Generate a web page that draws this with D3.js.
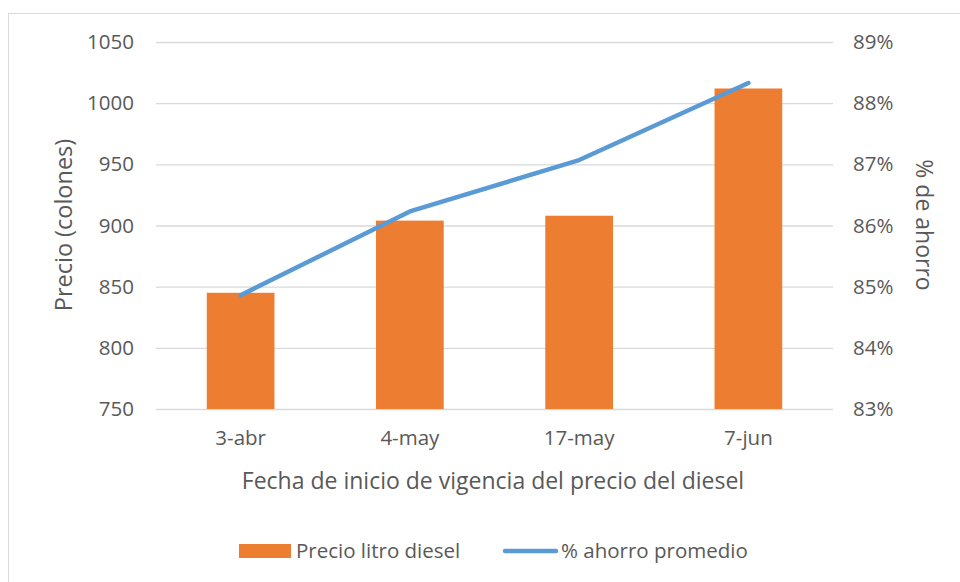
<!DOCTYPE html>
<html>
<head>
<meta charset="utf-8">
<script src="https://cdn.jsdelivr.net/npm/d3@7"></script>
<style>
  body { margin: 0; background: #fff; }
  svg text { font-family: "Open Sans", Lato, sans-serif; fill: #595959; }
</style>
</head>
<body>
<svg id="chart"></svg>
<script>
let W = 960;
let H = 582;

let fechas = ["3-abr", "4-may", "17-may", "7-jun"];
let precio = [845, 904, 908, 1012];
let ahorro = [84.86, 86.23, 87.07, 88.33];
let precioTicks = [750, 800, 850, 900, 950, 1000, 1050];
let ahorroTicks = [83, 84, 85, 86, 87, 88, 89];

let svg = d3.select("#chart").attr("width", W).attr("height", H);

// chart border
svg.append("rect")
    .attr("x", 8.5).attr("y", 13.5)
    .attr("width", W + 10).attr("height", H)
    .attr("fill", "none").attr("stroke", "#d9d9d9");

let pLeft = 156, pRight = 833, pTop = 42, pBottom = 409;

let x = d3.scaleBand().domain(fechas).range([pLeft, pRight])
    .paddingInner(0.6).paddingOuter(0.3);
let y = d3.scaleLinear().domain([750, 1050]).range([pBottom, pTop]);
let y2 = d3.scaleLinear().domain([83, 89]).range([pBottom, pTop]);

// gridlines
svg.append("g").selectAll("line").data(precioTicks).enter().append("line")
    .attr("x1", pLeft).attr("x2", pRight)
    .attr("y1", d => y(d) + 0.5).attr("y2", d => y(d) + 0.5)
    .attr("stroke", "#d9d9d9").attr("stroke-width", 1.3);

// axes (text only)
let yAxis = svg.append("g").attr("transform", "translate(" + (pLeft - 10) + ",0)")
    .call(d3.axisLeft(y).tickValues(precioTicks).tickSize(0).tickPadding(12)
        .tickFormat(d3.format("d")));
let y2Axis = svg.append("g").attr("transform", "translate(" + (pRight + 8) + ",0)")
    .call(d3.axisRight(y2).tickValues(ahorroTicks).tickSize(0).tickPadding(12)
        .tickFormat(d => d + "%"));
let xAxis = svg.append("g").attr("transform", "translate(0," + pBottom + ")")
    .call(d3.axisBottom(x).tickSize(0).tickPadding(21));

[yAxis, y2Axis, xAxis].forEach(function (a) {
    a.select(".domain").remove();
    a.selectAll("text").attr("font-size", 20.5).attr("font-family", null).attr("fill", "#595959");
});

// bars
svg.append("g").selectAll("rect").data(precio).enter().append("rect")
    .attr("x", (d, i) => x(fechas[i]))
    .attr("y", d => y(d))
    .attr("width", x.bandwidth())
    .attr("height", d => pBottom - y(d))
    .attr("fill", "#ED7D31");

// line
let line = d3.line()
    .x((d, i) => x(fechas[i]) + x.bandwidth() / 2)
    .y(d => y2(d));

svg.append("path").datum(ahorro)
    .attr("d", line)
    .attr("fill", "none")
    .attr("stroke", "#5B9BD5")
    .attr("stroke-width", 4.5)
    .attr("stroke-linecap", "round")
    .attr("stroke-linejoin", "round");

// titles
svg.append("text")
    .attr("transform", "translate(72,225) rotate(-90)")
    .attr("text-anchor", "middle")
    .attr("font-size", 23.5)
    .text("Precio (colones)");

svg.append("text")
    .attr("transform", "translate(916,225) rotate(90)")
    .attr("text-anchor", "middle")
    .attr("font-size", 23)
    .text("% de ahorro");

svg.append("text")
    .attr("x", 493).attr("y", 489)
    .attr("text-anchor", "middle")
    .attr("font-size", 23)
    .text("Fecha de inicio de vigencia del precio del diesel");

// legend
let lg = svg.append("g");
lg.append("rect").attr("x", 239).attr("y", 544).attr("width", 52).attr("height", 14)
    .attr("fill", "#ED7D31");
lg.append("text").attr("x", 296).attr("y", 558).attr("font-size", 20.5)
    .text("Precio litro diesel");
lg.append("line").attr("x1", 505).attr("x2", 556).attr("y1", 551).attr("y2", 551)
    .attr("stroke", "#5B9BD5").attr("stroke-width", 4.5).attr("stroke-linecap", "round");
lg.append("text").attr("x", 561).attr("y", 558).attr("font-size", 20.5)
    .text("% ahorro promedio");
</script>
</body>
</html>
